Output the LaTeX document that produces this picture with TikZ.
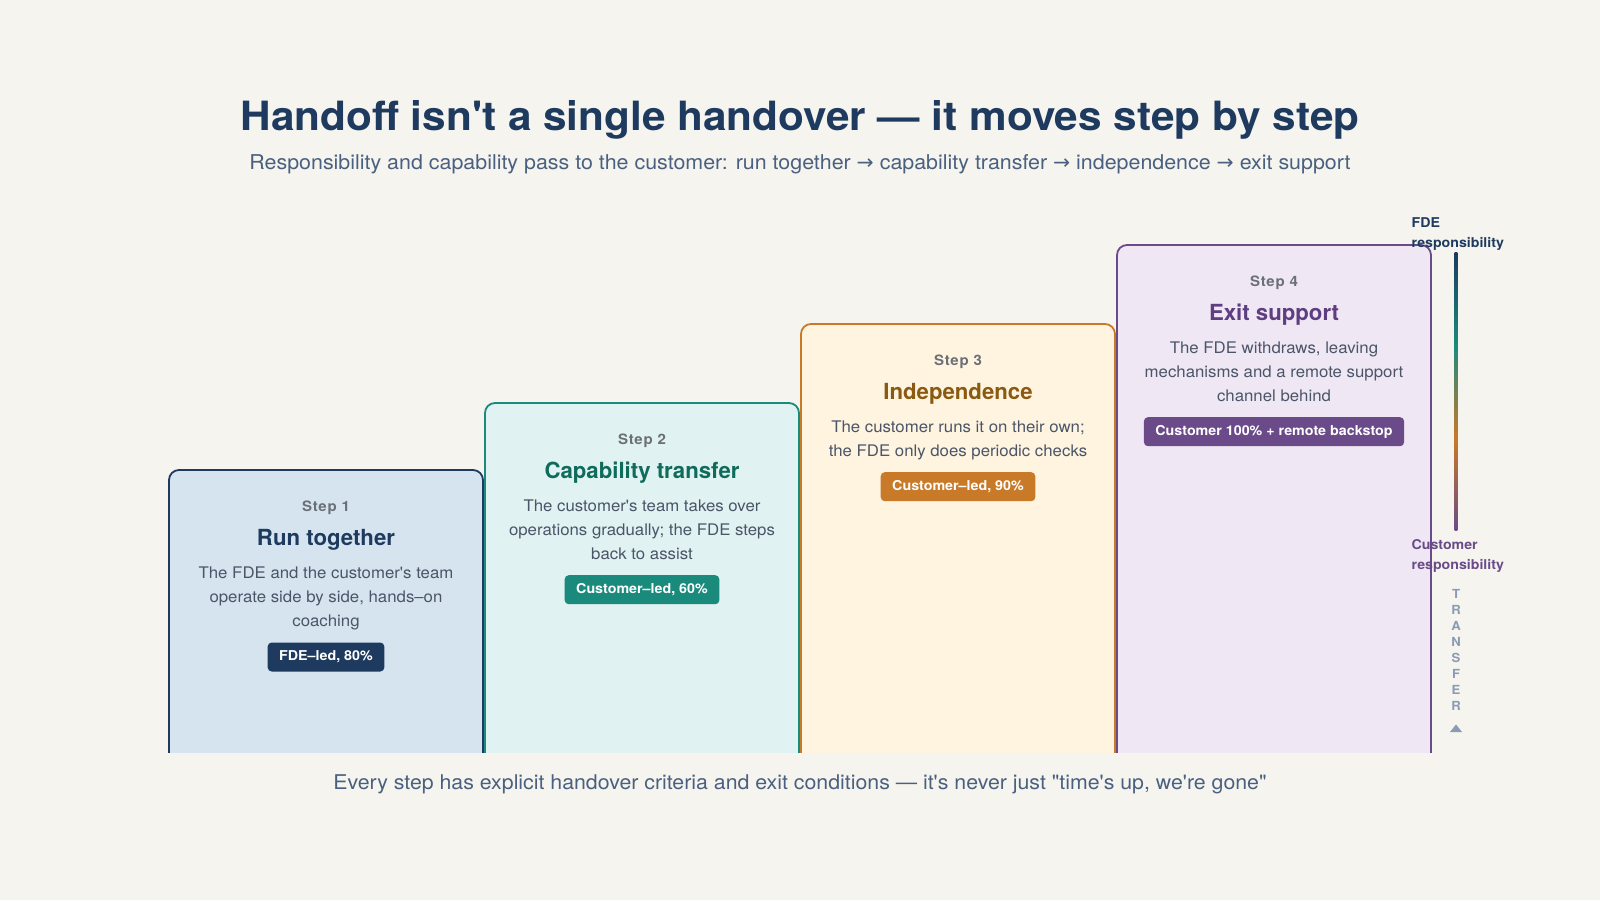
\documentclass[tikz,border=0pt]{standalone}
\usepackage{fontspec}
\setmainfont{TeX Gyre Heros}[Ligatures=TeXOff, FakeStretch=1.05]
\newfontfamily\plainheros{TeX Gyre Heros}[Ligatures=TeXOff]
\newfontfamily\spacedheros{TeX Gyre Heros}[Ligatures=TeXOff, FakeStretch=1.05, LetterSpace=5]
\newfontfamily\symfont{DejaVu Sans}
\definecolor{bgcol}{HTML}{F5F4EE}
\definecolor{cnavy}{HTML}{1E3A5F}
\definecolor{cteal}{HTML}{1A8A7D}
\definecolor{corange}{HTML}{C87A28}
\definecolor{cpurple}{HTML}{6B4A8A}
\definecolor{fnavy}{HTML}{D6E4F0}
\definecolor{fteal}{HTML}{E0F2F1}
\definecolor{forange}{HTML}{FFF4E0}
\definecolor{fpurple}{HTML}{F0E7F4}
\definecolor{tnavy}{HTML}{1E3A5F}
\definecolor{tteal}{HTML}{0F6B5C}
\definecolor{torange}{HTML}{8A5A12}
\definecolor{tpurple}{HTML}{5E3D80}
\definecolor{steplabel}{HTML}{6B6F76}
\definecolor{desccol}{HTML}{4A5568}
\definecolor{subcol}{HTML}{4A6080}
\definecolor{trcol}{HTML}{8A9BB5}
\tikzset{
  card/.style={line width=1.8, rounded corners=10},
  steplbl/.style={font=\spacedheros\bfseries\fontsize{14.3}{16}\selectfont, text=steplabel, anchor=base, inner sep=0},
  cardtitle/.style={font=\plainheros\bfseries\fontsize{22.2}{26}\selectfont, anchor=base, inner sep=0},
  desc/.style={font=\fontsize{16}{19}\selectfont, text=desccol, anchor=base, inner sep=0},
  pill/.style={font=\bfseries\fontsize{13.6}{16}\selectfont, text=white, rounded corners=4, minimum height=29, inner xsep=11.5, inner ysep=0, anchor=north},
  resplbl/.style={font=\bfseries\fontsize{13.5}{16}\selectfont, anchor=base west, inner sep=0},
  trlbl/.style={font=\bfseries\fontsize{12.5}{14}\selectfont, text=trcol, anchor=base, inner sep=0},
}
\begin{document}
\begin{tikzpicture}[x=1pt,y=-1pt]
\useasboundingbox (0,0) rectangle (1600,900);
\fill[bgcol] (0,0) rectangle (1600,900);
% title
\node[font=\bfseries\fontsize{40.3}{46}\selectfont, text=cnavy, anchor=base, inner sep=0] (title) at (800,130) {Handoff isn't a single handover — it moves step by step};
\node[font=\fontsize{20.4}{23}\selectfont, text=subcol, anchor=base, inner sep=0] (subtitle) at (800,169.3) {Responsibility and capability pass to the customer: run together {\symfont →} capability transfer {\symfont →} independence {\symfont →} exit support};
% cards
\begin{scope}
\clip (0,0) rectangle (1600,752);
\draw[card, fill=fnavy, draw=cnavy] (169,470) rectangle (483,800);
\draw[card, fill=fteal, draw=cteal] (485,403) rectangle (799,800);
\draw[card, fill=forange, draw=corange] (801,324) rectangle (1115,800);
\draw[card, fill=fpurple, draw=cpurple] (1117,245) rectangle (1431,800);
\end{scope}
% card 1
\node[steplbl] (s1) at (326,511) {Step 1};
\node[cardtitle, text=tnavy] (t1) at (326,545) {Run together};
\node[desc] (d1a) at (326,578) {The FDE and the customer's team};
\node[desc] (d1b) at (326,602) {operate side by side, hands–on};
\node[desc] (d1c) at (326,626) {coaching};
\node[pill, fill=cnavy] (p1) at (326,642.3) {FDE–led, 80\%};
% card 2
\node[steplbl] (s2) at (642,444) {Step 2};
\node[cardtitle, text=tteal] (t2) at (642,478) {Capability transfer};
\node[desc] (d2a) at (642,511) {The customer's team takes over};
\node[desc] (d2b) at (642,535) {operations gradually; the FDE steps};
\node[desc] (d2c) at (642,559) {back to assist};
\node[pill, fill=cteal] (p2) at (642,575) {Customer–led, 60\%};
% card 3
\node[steplbl] (s3) at (958,365) {Step 3};
\node[cardtitle, text=torange] (t3) at (958,399) {Independence};
\node[desc] (d3a) at (958,432) {The customer runs it on their own;};
\node[desc] (d3b) at (958,456) {the FDE only does periodic checks};
\node[pill, fill=corange] (p3) at (958,472) {Customer–led, 90\%};
% card 4
\node[steplbl] (s4) at (1274,286) {Step 4};
\node[cardtitle, text=tpurple] (t4) at (1274,320) {Exit support};
\node[desc] (d4a) at (1274,353) {The FDE withdraws, leaving};
\node[desc] (d4b) at (1274,377) {mechanisms and a remote support};
\node[desc] (d4c) at (1274,401) {channel behind};
\node[pill, fill=cpurple] (p4) at (1274,417) {Customer 100\% + remote backstop};
% responsibility bar
\shade[top color=cnavy, bottom color=cteal] (1454.6,252) rectangle (1457.4,345);
\shade[top color=cteal, bottom color=corange] (1454.6,344.5) rectangle (1457.4,438);
\shade[top color=corange, bottom color=cpurple] (1454.6,437.5) rectangle (1457.4,530);
\node[resplbl, text=cnavy] (fde1) at (1411.5,227) {FDE};
\node[resplbl, text=cnavy] (fde2) at (1411.5,247) {responsibility};
\node[resplbl, text=cpurple] (cus1) at (1411.5,549) {Customer};
\node[resplbl, text=cpurple] (cus2) at (1411.5,569) {responsibility};
\foreach \l [count=\i from 0] in {T,R,A,N,S,F,E,R}
  \node[trlbl] (tr\i) at (1456,598+16*\i) {\l};
\fill[trcol] (1450,732) -- (1462,732) -- (1456,724.5) -- cycle;
% footer
\node[font=\fontsize{20.3}{24}\selectfont, text=subcol, anchor=base, inner sep=0] (footer) at (800,789) {Every step has explicit handover criteria and exit conditions — it's never just "time's up, we're gone"};
\end{tikzpicture}
\end{document}
